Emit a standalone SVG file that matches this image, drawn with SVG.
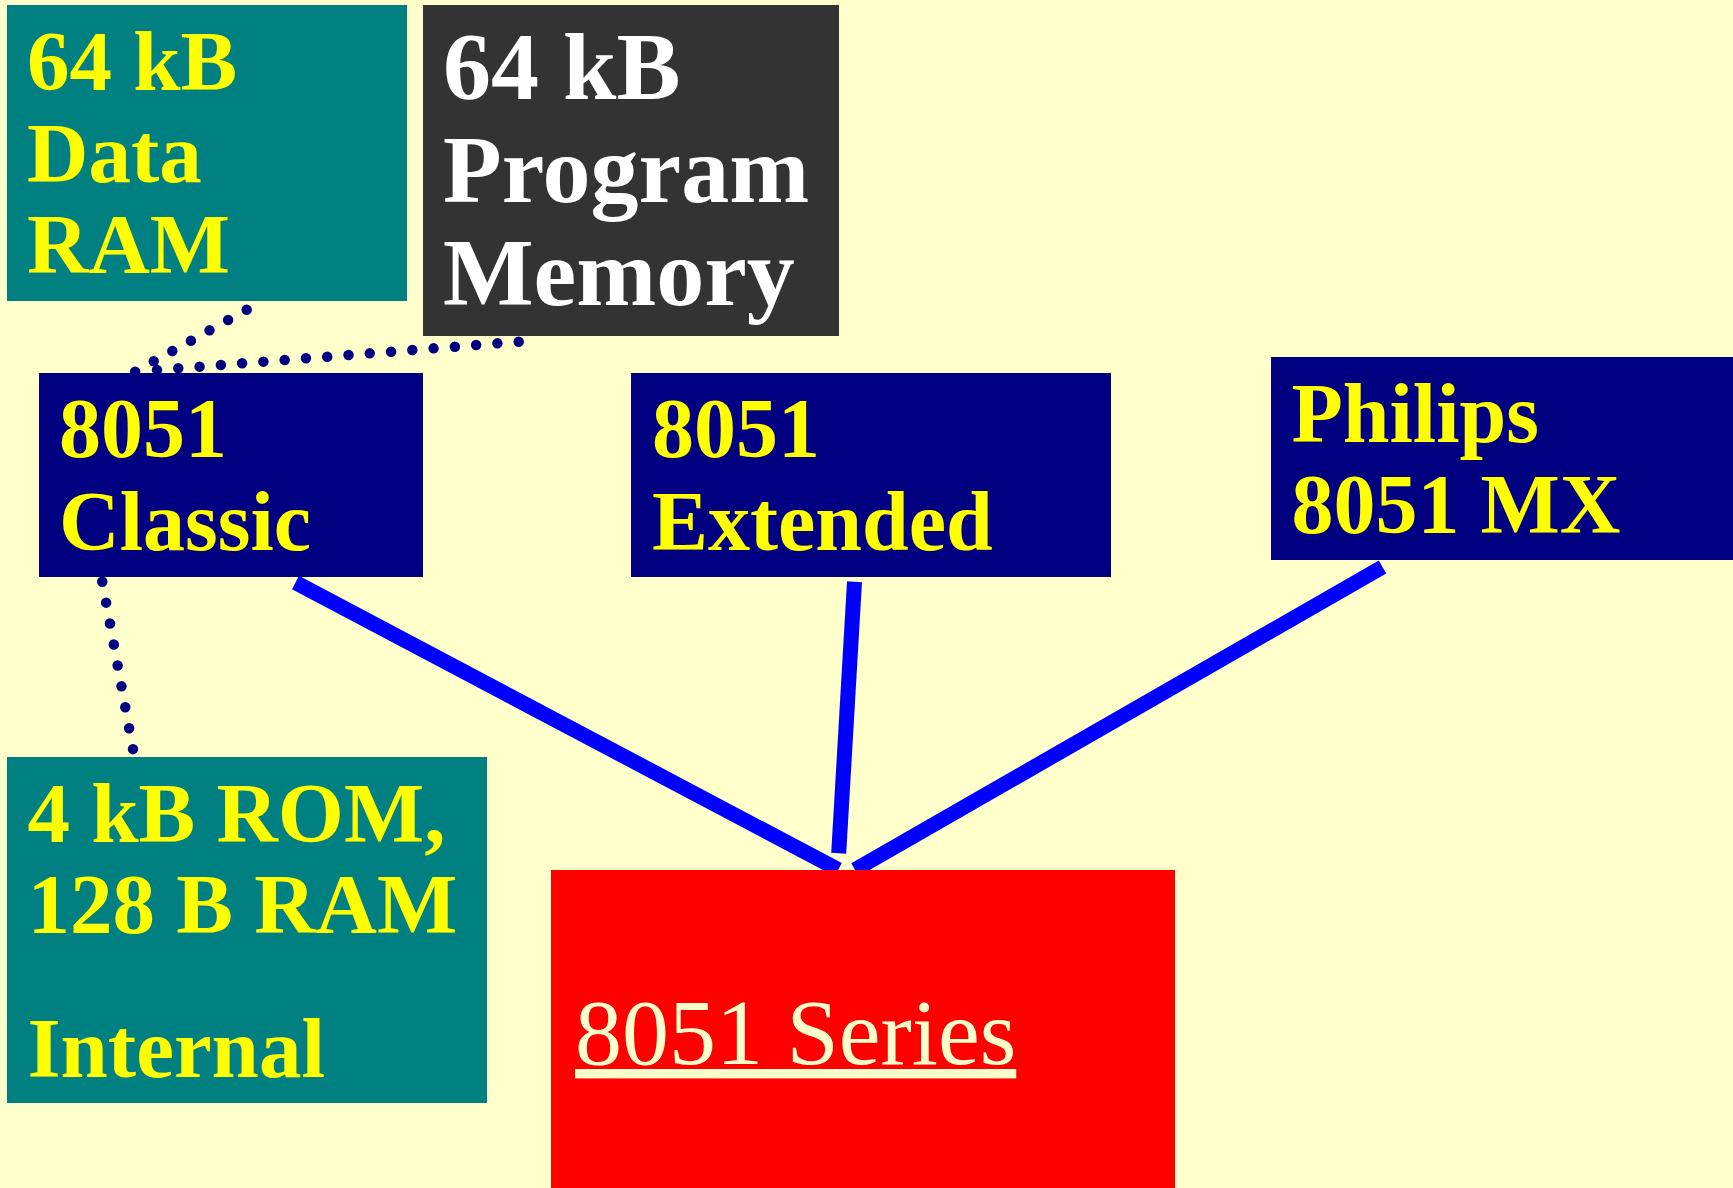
<svg xmlns="http://www.w3.org/2000/svg" width="1733" height="1188" viewBox="0 0 1733 1188">
<style>
.lbl{font-family:"Liberation Serif","Times New Roman",serif;font-weight:bold;}
.y{fill:#FFFF00;}
.w{fill:#FFFFFF;}
.dot{fill:none;stroke:#000080;stroke-width:10.5;stroke-linecap:round;}
.bl{fill:none;stroke:#0000FF;stroke-width:15;stroke-linecap:butt;}
</style>
<rect x="0" y="0" width="1733" height="1188" fill="#FFFFCC"/>
<g id="connectors">
<path class="dot" d="M246.7,309.7 L135,371.7" stroke-dasharray="0 21.27"/>
<path class="dot" d="M518.7,341.7 L156.7,370" stroke-dasharray="0 21.34"/>
<path class="dot" d="M102.3,581.7 L133,749.3" stroke-dasharray="0 21.28"/>
<line class="bl" x1="295.5" y1="582.5" x2="838.3" y2="869.7"/>
<line class="bl" x1="854.5" y1="581.7" x2="838.7" y2="853.3"/>
<line class="bl" x1="1382.5" y1="567" x2="855" y2="869.7"/>
</g>
<g id="data-ram">
<rect x="7" y="5" width="400" height="296" fill="#008080"/>
<text class="lbl y" font-size="85" x="27" y="90">64 kB</text>
<text class="lbl y" font-size="85" x="27" y="182">Data</text>
<text class="lbl y" font-size="85" x="27" y="273">RAM</text>
</g>
<g id="program-memory">
<rect x="423" y="5" width="416" height="331" fill="#333333"/>
<text class="lbl w" font-size="96" x="443" y="99">64 kB</text>
<text class="lbl w" font-size="96" x="443" y="202">Program</text>
<text class="lbl w" font-size="96" x="443" y="305">Memory</text>
</g>
<g id="classic">
<rect x="39" y="373" width="384" height="204" fill="#000080"/>
<text class="lbl y" font-size="84" x="59" y="457">8051</text>
<text class="lbl y" font-size="84" x="59" y="550">Classic</text>
</g>
<g id="extended">
<rect x="631" y="373" width="480" height="204" fill="#000080"/>
<text class="lbl y" font-size="84" x="652" y="457">8051</text>
<text class="lbl y" font-size="84" x="652" y="550">Extended</text>
</g>
<g id="philips">
<rect x="1271" y="357" width="470" height="203" fill="#000080"/>
<text class="lbl y" font-size="84" x="1291.5" y="441.6">Philips</text>
<text class="lbl y" font-size="84" x="1291.5" y="533.4">8051 MX</text>
</g>
<g id="internal">
<rect x="7" y="757" width="480" height="346" fill="#008080"/>
<text class="lbl y" font-size="85" x="27.5" y="841.5">4 kB ROM,</text>
<text class="lbl y" font-size="85" x="27.5" y="933">128 B RAM</text>
<text class="lbl y" font-size="85" x="27.5" y="1076.6">Internal</text>
</g>
<g id="series">
<rect x="551" y="870" width="624" height="320" fill="#FF0000"/>
<text font-family="'Liberation Serif','Times New Roman',serif" font-size="94" fill="#FFFFCC" x="575" y="1064" text-decoration="underline">8051 Series</text>
</g>
</svg>
